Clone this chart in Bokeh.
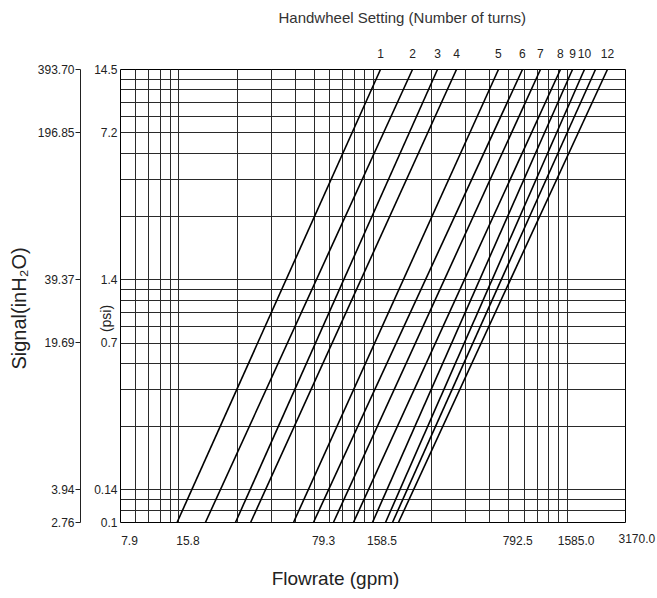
import math
from bokeh.plotting import figure
from bokeh.models import (LogAxis, FixedTicker, Label, ColumnDataSource, Range1d)
from bokeh.embed import file_html
from bokeh.resources import INLINE

# ---------------- data ----------------
# Flowrate axis (gpm)
x_min, x_max = 7.925, 3170.0
x_tick_values = [7.925, 15.85, 79.25, 158.5, 792.5, 1585.0, 3170.0]
x_tick_labels = ["7.9", "15.8", "79.3", "158.5", "792.5", "1585.0", "3170.0"]

# Signal axis (inH2O) with psi equivalents
y_min, y_max = 2.7559, 393.70
y_tick_values = [393.70, 196.85, 39.37, 19.69, 3.94, 2.76]
y_tick_labels_inh2o = ["393.70", "196.85", "39.37", "19.69", "3.94", "2.76"]
y_tick_labels_psi = ["14.5", "7.2", "1.4", "0.7", "0.14", "0.1"]

# Handwheel setting lines: flow (gpm) at bottom edge and at top edge of the chart
turns = ["1", "2", "3", "4", "5", "6", "7", "8", "9", "10", "11", "12"]
turn_shown = ["1", "2", "3", "4", "5", "6", "7", "8", "9", "10", "12"]
flow_at_bottom = [15.5, 21.7, 31.0, 37.1, 61.7, 78.2, 99.1, 125.7, 157.5, 183.8, 199.7, 214.4]
flow_at_top = [173.2, 253.2, 340.6, 426.7, 702.2, 933.5, 1155.6, 1465.0, 1690.0, 1947.0, 2220.0, 2558.0]

# grid: log decades in L/s (x) and m H2O (y)
GPM_PER_LPS = 15.85
INH2O_PER_M = 39.37
x_grid = [m * 10 ** e * GPM_PER_LPS for e in (-1, 0, 1, 2) for m in range(1, 10)]
x_grid = [v for v in x_grid if x_min * 0.999 <= v <= x_max * 1.001]
y_grid = [m * 10 ** e * INH2O_PER_M for e in (-2, -1, 0, 1) for m in range(1, 10)]
y_grid = [v for v in y_grid if y_min * 0.999 <= v <= y_max * 1.001]

FONT = "Liberation Sans"
TXT = "#222222"
FW, FH = 505, 453

# helpers: convert a pixel offset from the frame's left / bottom edge to data units
px_x = FW / math.log10(x_max / x_min)
px_y = FH / math.log10(y_max / y_min)
def x_at(dpx):
    return x_min * 10 ** (dpx / px_x)
def y_at(dpx):
    return y_min * 10 ** (dpx / px_y)

p = figure(x_axis_type="log", y_axis_type="log",
           x_range=Range1d(x_min, x_max), y_range=Range1d(y_min, y_max),
           frame_width=FW, frame_height=FH,
           min_border_left=120, min_border_right=31, min_border_top=69, min_border_bottom=75,
           output_backend="svg", toolbar_location=None,
           x_axis_location=None, y_axis_location=None)
p.outline_line_color = "black"
p.outline_line_width = 1
p.background_fill_color = "white"
p.border_fill_color = "white"

# grids (reuse the figure's own grids with fixed log-decade tickers)
p.xgrid.ticker = FixedTicker(ticks=x_grid)
p.ygrid.ticker = FixedTicker(ticks=y_grid)
p.grid.grid_line_color = "#2a2a2a"
p.grid.grid_line_width = 1
p.grid.grid_line_alpha = 1.0

# handwheel lines
src = ColumnDataSource(dict(x0=flow_at_bottom, x1=flow_at_top,
                            y0=[y_min] * len(turns), y1=[y_max] * len(turns)))
p.segment(x0="x0", y0="y0", x1="x1", y1="y1", source=src,
          line_color="black", line_width=1.6)

# left inner axis (psi)
ax_psi = LogAxis(ticker=FixedTicker(ticks=y_tick_values),
                 major_label_overrides=dict(zip(y_tick_values, y_tick_labels_psi)),
                 major_tick_out=0, major_tick_in=0, minor_tick_out=0, minor_tick_in=0,
                 axis_line_color=None, major_label_standoff=3,
                 major_label_text_font=FONT, major_label_text_font_size="12px",
                 major_label_text_color=TXT)
p.add_layout(ax_psi, "left")

# spacer between the two left axes
ax_gap = LogAxis(ticker=FixedTicker(ticks=[y_max]),
                 major_label_overrides={y_max: ""},
                 axis_line_color=None, major_tick_line_color=None,
                 major_tick_out=11, major_tick_in=0, minor_tick_out=0, minor_tick_in=0,
                 major_label_standoff=0, major_label_text_font_size="1px")
p.add_layout(ax_gap, "left")

# left outer axis (inH2O)
ax_in = LogAxis(ticker=FixedTicker(ticks=y_tick_values),
                major_label_overrides=dict(zip(y_tick_values, y_tick_labels_inh2o)),
                major_tick_out=5, major_tick_in=0, minor_tick_out=0, minor_tick_in=0,
                major_tick_line_color=TXT, axis_line_color=TXT,
                major_label_standoff=1,
                major_label_text_font=FONT, major_label_text_font_size="12px",
                major_label_text_color=TXT)
p.add_layout(ax_in, "left")

# top axis: handwheel turn numbers
shown_vals = [flow_at_top[turns.index(t)] for t in turn_shown]
ax_top = LogAxis(ticker=FixedTicker(ticks=shown_vals),
                 major_label_overrides=dict(zip(shown_vals, turn_shown)),
                 major_tick_out=0, major_tick_in=0, minor_tick_out=0, minor_tick_in=0,
                 axis_line_color=None, major_label_standoff=12,
                 major_label_text_font=FONT, major_label_text_font_size="12px",
                 major_label_text_color=TXT)
p.add_layout(ax_top, "above")

# bottom axis: flow labels sit a little right of their grid line
LABEL_SHIFT = 9  # px
shift = 10 ** (LABEL_SHIFT / px_x)
bottom_vals = [v * shift for v in x_tick_values[:-1]]
ax_bot = LogAxis(ticker=FixedTicker(ticks=bottom_vals),
                 major_label_overrides=dict(zip(bottom_vals, x_tick_labels[:-1])),
                 major_tick_out=0, major_tick_in=0, minor_tick_out=0, minor_tick_in=0,
                 axis_line_color=None, major_label_standoff=13,
                 major_label_text_font=FONT, major_label_text_font_size="12px",
                 major_label_text_color=TXT)
p.add_layout(ax_bot, "below")

# free texts (placed in side panels so they are not clipped by the frame)
lbl_title = Label(x=x_at(158), y=y_at(505), x_units="data", y_units="data",
                  text="Handwheel Setting (Number of turns)", text_align="left",
                  text_baseline="middle",
                  text_font=FONT, text_font_size="15px", text_color="#333333")
lbl_last = Label(x=x_tick_values[-1], y=y_at(-16), x_units="data", y_units="data",
                 x_offset=-7, text=x_tick_labels[-1], text_align="left",
                 text_baseline="middle",
                 text_font=FONT, text_font_size="12px", text_color=TXT)
lbl_flow = Label(x=x_at(215), y=y_at(-56), x_units="data", y_units="data",
                 text="Flowrate (gpm)", text_align="center", text_baseline="middle",
                 text_font=FONT, text_font_size="19px", text_color=TXT)
lbl_signal = Label(x=x_at(-102), y=y_at(214), x_units="data", y_units="data",
                   text="Signal(inH\u2082O)", angle=math.pi / 2, text_align="center",
                   text_baseline="middle",
                   text_font=FONT, text_font_size="20px", text_color=TXT)
lbl_psi = Label(x=x_at(-15), y=y_at(204), x_units="data", y_units="data",
                text="(psi)", angle=math.pi / 2, text_align="center",
                text_baseline="middle",
                text_font=FONT, text_font_size="14px", text_color=TXT)
p.add_layout(lbl_title, "above")
p.add_layout(lbl_last, "above")
p.add_layout(lbl_flow, "below")
p.add_layout(lbl_signal, "below")
p.add_layout(lbl_psi, "right")

open("out.html", "w").write(file_html(p, INLINE))
